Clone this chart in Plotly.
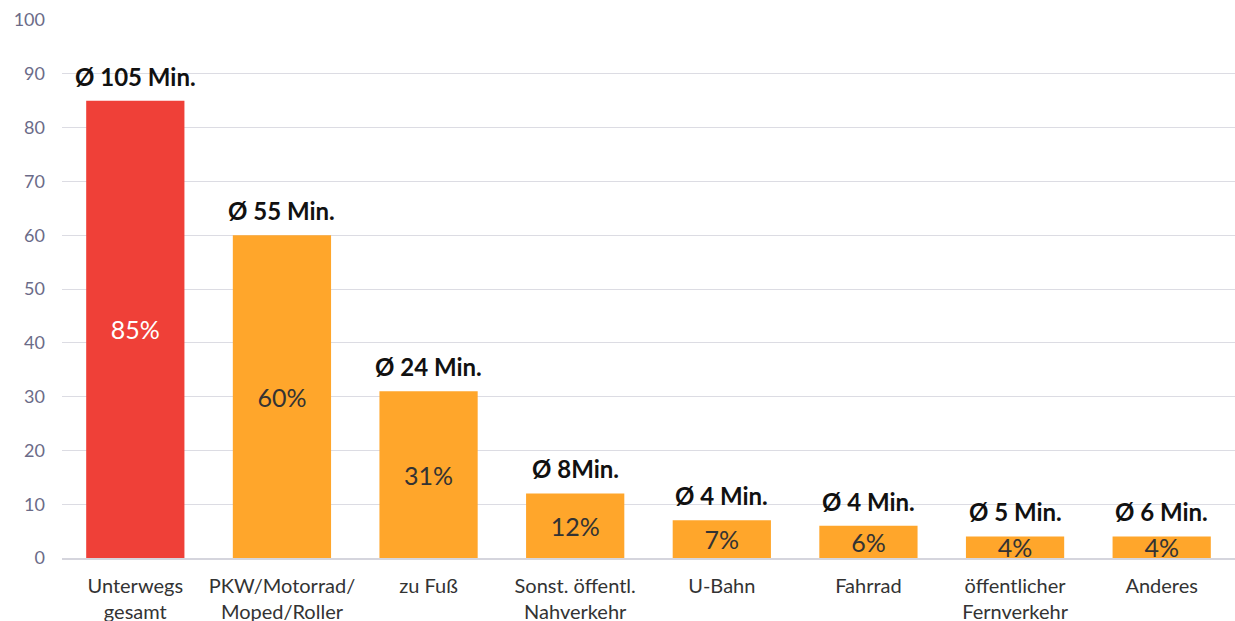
import plotly.graph_objects as go

categories = [
    "Unterwegs<br>gesamt",
    "PKW/Motorrad/<br>Moped/Roller",
    "zu Fuß",
    "Sonst. öffentl.<br>Nahverkehr",
    "U-Bahn",
    "Fahrrad",
    "öffentlicher<br>Fernverkehr",
    "Anderes",
]
shares = [85, 60, 31, 12, 7, 6, 4, 4]
avg_minutes = ["Ø 105 Min.", "Ø 55 Min.", "Ø 24 Min.", "Ø 8Min.", "Ø 4 Min.", "Ø 4 Min.", "Ø 5 Min.", "Ø 6 Min."]
y_ticks = [0, 10, 20, 30, 40, 50, 60, 70, 80, 90, 100]

RED = "#EF4038"
ORANGE = "#FFA62B"
FONT = "Lato"

bar_colors = [RED] + [ORANGE] * (len(shares) - 1)
text_colors = ["#FFFFFF"] + ["#333333"] * (len(shares) - 1)

fig = go.Figure(
    go.Bar(
        x=categories,
        y=shares,
        marker=dict(color=bar_colors, line=dict(width=0)),
        text=[f"{v}%" for v in shares],
        textposition="inside",
        insidetextanchor="middle",
        textfont=dict(family=FONT, size=25, color=text_colors),
        hoverinfo="skip",
    )
)

# average durations written above each bar
for cat, val, label in zip(categories, shares, avg_minutes):
    fig.add_annotation(
        x=cat, y=val, text=f"<b>{label}</b>",
        showarrow=False, yanchor="bottom", yshift=8,
        font=dict(family=FONT, size=24, color="#111111"),
    )

fig.update_layout(
    width=1235, height=621,
    margin=dict(l=62, r=0, t=20, b=63),
    paper_bgcolor="white", plot_bgcolor="white",
    bargap=0.33,
    showlegend=False,
    uniformtext=dict(minsize=25, mode="show"),
    font=dict(family=FONT),
)
fig.update_yaxes(
    range=[0, 100], tickvals=y_ticks,
    showgrid=True, gridcolor="#DCDCE3", gridwidth=1,
    zeroline=False, showline=False, automargin=False,
    tickfont=dict(family=FONT, size=18, color="#6B6B88"),
    ticks="", ticklabelstandoff=16,
)
fig.update_xaxes(
    showline=True, linecolor="#D5D5DD", linewidth=2, automargin=False,
    tickfont=dict(family=FONT, size=20, color="#333333"),
    ticks="", ticklabelstandoff=9,
)

fig.write_html("out.html")
